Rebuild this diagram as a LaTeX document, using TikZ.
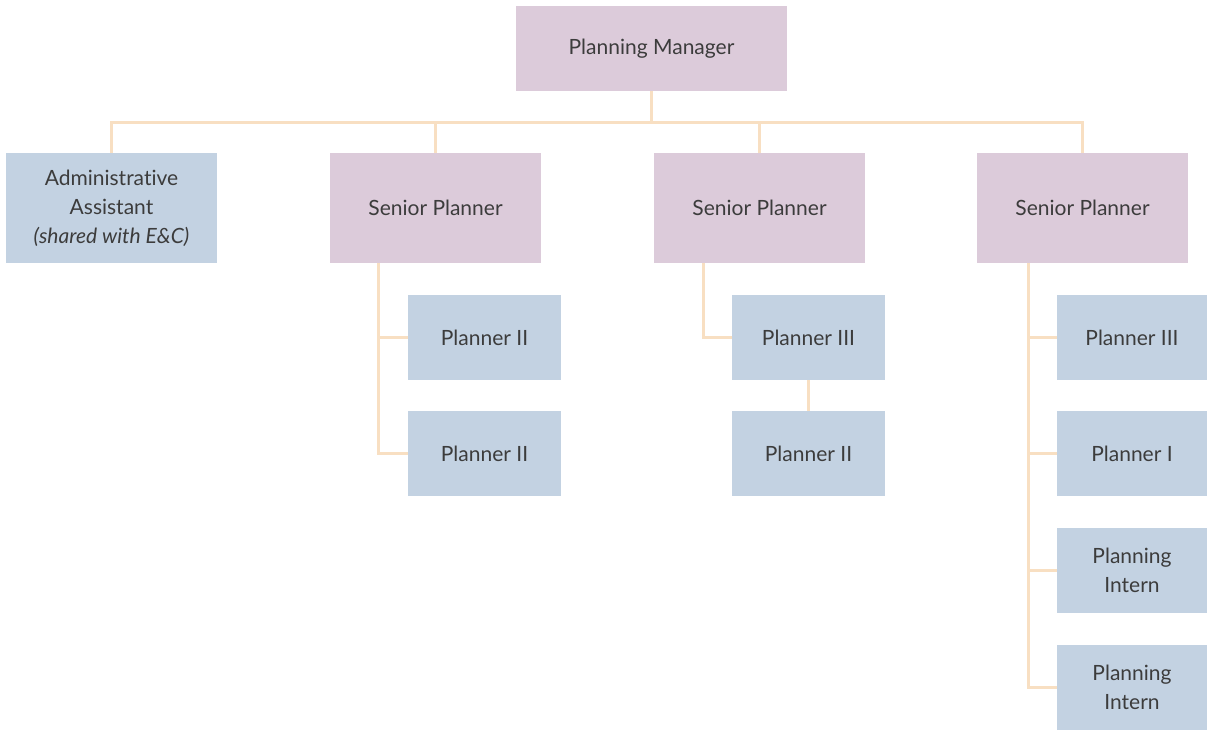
\documentclass[tikz,border=0pt]{standalone}
\usepackage{fontspec}
\setmainfont{Lato}[Ligatures={NoCommon}]
\usepackage{tikz}
\usetikzlibrary{positioning,calc}
\usepackage{xcolor}
\definecolor{mauvefill}{HTML}{DCCBDA}
\definecolor{bluefill}{HTML}{C3D2E2}
\definecolor{peachline}{HTML}{F8DFC2}
\definecolor{textgray}{HTML}{3C3C3C}

\begin{document}
\begin{tikzpicture}[x=1pt,y=-1pt,
  box/.style={inner sep=0pt,align=center,text=textgray,
    font=\fontsize{21}{29}\selectfont},
  mbox/.style={box,fill=mauvefill,minimum width=211pt,minimum height=110pt},
  bbox/.style={box,fill=bluefill,minimum width=153pt,minimum height=85pt},
  link/.style={draw=peachline,line width=3pt}]
  \useasboundingbox (0,0) rectangle (1207,730);

  % top
  \node[mbox,minimum width=271pt,minimum height=85pt] (mgr) at (651.5,48.5) {Planning Manager};
  \coordinate (bus) at (651.5,123);

  % second row
  \node[bbox,minimum width=211pt,minimum height=110pt] (admin) at (111.5,208) {Administrative\\Assistant\\\textit{(shared with E\&C)}};
  \node[mbox] (sp1) at (435.5,208) {Senior Planner};
  \node[mbox] (sp2) at (759.5,208) {Senior Planner};
  \node[mbox] (sp3) at (1082.5,208) {Senior Planner};

  % under first senior planner
  \node[bbox] (pa1) at (484.5,337.5) {Planner II};
  \node[bbox] (pa2) at (484.5,453.5) {Planner II};

  % under second senior planner
  \node[bbox] (pb1) at (808.5,337.5) {Planner III};
  \node[bbox] (pb2) at (808.5,453.5) {Planner II};

  % under third senior planner
  \node[bbox,minimum width=150pt] (pc1) at (1132,337.5) {Planner III};
  \node[bbox,minimum width=150pt] (pc2) at (1132,453.5) {Planner I};
  \node[bbox,minimum width=150pt] (pc3) at (1132,570.5) {Planning\\Intern};
  \node[bbox,minimum width=150pt] (pc4) at (1132,687) {Planning\\Intern};

  % connectors
  \draw[link] (mgr.south) -- (bus);
  \draw[link] (admin.north) |- (bus) -| (sp3.north);
  \draw[link] (sp1.north) -- (sp1.north |- bus);
  \draw[link] (sp2.north) -- (sp2.north |- bus);

  \draw[link] ([xshift=49pt]sp1.south west) |- (pa2.west);
  \draw[link] ([xshift=49pt]sp1.south west) |- (pa1.west);

  \draw[link] ([xshift=50pt]sp2.south west) |- (pb1.west);
  \draw[link] (pb1.south) -- (pb2.north);

  \draw[link] ([xshift=52pt]sp3.south west) |- (pc4.west);
  \draw[link] ([xshift=52pt]sp3.south west) |- (pc1.west);
  \draw[link] ([xshift=52pt]sp3.south west) |- (pc2.west);
  \draw[link] ([xshift=52pt]sp3.south west) |- (pc3.west);
\end{tikzpicture}
\end{document}
